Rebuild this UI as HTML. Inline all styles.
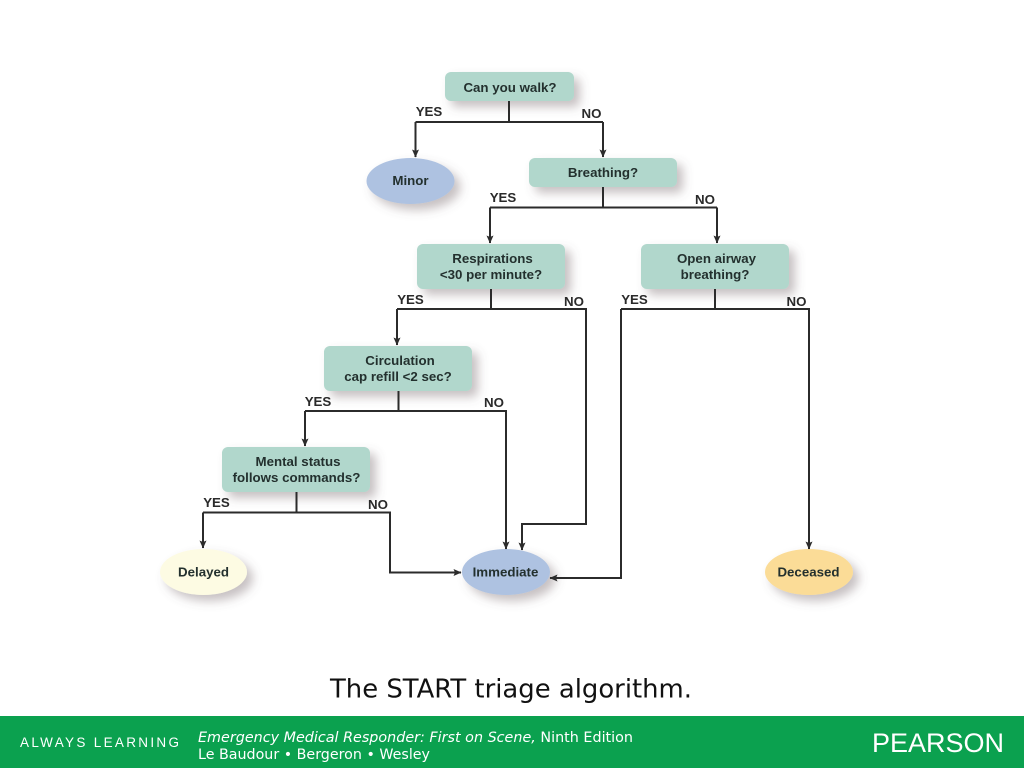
<!DOCTYPE html>
<html>
<head>
<meta charset="utf-8">
<style>
html,body{margin:0;padding:0;background:#fff;width:1024px;height:768px;overflow:hidden}
svg{display:block}
.n{font:bold 13.3px "Liberation Sans",sans-serif;fill:#23302e;text-anchor:middle}
.l{font:bold 13.3px "Liberation Sans",sans-serif;fill:#2a2a2a;text-anchor:middle}
.c{fill:none;stroke:#2b2b2b;stroke-width:2}
.v{font-family:"DejaVu Sans",sans-serif}
</style>
</head>
<body>
<svg width="1024" height="768" viewBox="0 0 1024 768" xmlns="http://www.w3.org/2000/svg">
<defs>
<filter id="s" x="-25%" y="-40%" width="160%" height="220%"><feDropShadow dx="6" dy="6" stdDeviation="5" flood-color="#6b5a60" flood-opacity=".38"/></filter>
<marker id="a" markerUnits="userSpaceOnUse" markerWidth="9" markerHeight="10" refX="7.500" refY="4" orient="auto"><path d="M0 0.500L8 4L0 7.500L1.500 4Z" fill="#2b2b2b"/></marker>
</defs>
<rect width="1024" height="768" fill="#fff"/>

<g fill="#b1d7cc" filter="url(#s)">
<rect x="445" y="72" width="129" height="29" rx="6"/>
<rect x="529" y="158" width="148" height="29" rx="6"/>
<rect x="417" y="244" width="148" height="45" rx="6"/>
<rect x="641" y="244" width="148" height="45" rx="6"/>
<rect x="324" y="346" width="148" height="45" rx="6"/>
<rect x="222" y="447" width="148" height="45" rx="6"/>
</g>
<g filter="url(#s)">
<ellipse cx="410.500" cy="181" rx="44" ry="23" fill="#aec2e1"/>
<ellipse cx="203.500" cy="572" rx="43.500" ry="23" fill="#fdfbe3"/>
<ellipse cx="506" cy="572" rx="44" ry="23" fill="#aec2e1"/>
<ellipse cx="809" cy="572" rx="44" ry="23" fill="#fbdc97"/>
</g>

<g class="c">
<path d="M509 101V122"/>
<path d="M415.500 122V157" marker-end="url(#a)"/>
<path d="M415.500 122H603"/>
<path d="M603 122V157" marker-end="url(#a)"/>
<path d="M603 187V207.500"/>
<path d="M490 207.500H717"/>
<path d="M490 207.500V243" marker-end="url(#a)"/>
<path d="M717 207.500V243" marker-end="url(#a)"/>
<path d="M491 289V309"/>
<path d="M397 309H586V524H522V550" marker-end="url(#a)"/>
<path d="M397 309V345" marker-end="url(#a)"/>
<path d="M715 289V309"/>
<path d="M621 309H809V549" marker-end="url(#a)"/>
<path d="M621 309V578H550" marker-end="url(#a)"/>
<path d="M398.500 391V411"/>
<path d="M305 411H506V549" marker-end="url(#a)"/>
<path d="M305 411V446" marker-end="url(#a)"/>
<path d="M296.500 492V512.500"/>
<path d="M203 512.500H390V572.500H461" marker-end="url(#a)"/>
<path d="M203 512.500V548" marker-end="url(#a)"/>
</g>

<g class="n">
<text x="510" y="92">Can you walk?</text>
<text x="603" y="177">Breathing?</text>
<text x="492.500" y="263">Respirations</text>
<text x="491" y="279">&lt;30 per minute?</text>
<text x="716.500" y="263">Open airway</text>
<text x="715" y="279">breathing?</text>
<text x="400" y="365">Circulation</text>
<text x="398" y="381">cap refill &lt;2 sec?</text>
<text x="298" y="466">Mental status</text>
<text x="296.500" y="482">follows commands?</text>
<text x="410.500" y="185">Minor</text>
<text x="203.500" y="576.500">Delayed</text>
<text x="505.500" y="576.500">Immediate</text>
<text x="808.500" y="576.500">Deceased</text>
</g>

<g class="l">
<text x="429" y="116">YES</text>
<text x="591.500" y="118">NO</text>
<text x="503" y="202">YES</text>
<text x="705" y="204">NO</text>
<text x="410.500" y="304">YES</text>
<text x="574" y="306">NO</text>
<text x="634.500" y="304">YES</text>
<text x="796.500" y="306">NO</text>
<text x="318" y="406">YES</text>
<text x="494" y="407">NO</text>
<text x="216.500" y="507">YES</text>
<text x="378" y="509">NO</text>
</g>

<text x="330" y="697.500" class="v" font-size="25.500" fill="#111" textLength="362" lengthAdjust="spacingAndGlyphs">The START triage algorithm.</text>

<rect x="0" y="716" width="1024" height="52" fill="#0ba14f"/>
<text x="20" y="747" font-family="'Liberation Sans',sans-serif" font-size="13.500" fill="#fff" textLength="159" lengthAdjust="spacing">ALWAYS LEARNING</text>
<text x="198" y="742" class="v" font-size="14.500" fill="#fff" textLength="435" lengthAdjust="spacingAndGlyphs"><tspan font-style="italic">Emergency Medical Responder: First on Scene,</tspan> Ninth Edition</text>
<text x="198" y="759" class="v" font-size="14.500" fill="#fff" textLength="232" lengthAdjust="spacingAndGlyphs">Le Baudour • Bergeron • Wesley</text>
<text x="872" y="752" font-family="'Liberation Sans',sans-serif" font-size="27" fill="#fff" textLength="132" lengthAdjust="spacing">PEARSON</text>
</svg>
</body>
</html>
